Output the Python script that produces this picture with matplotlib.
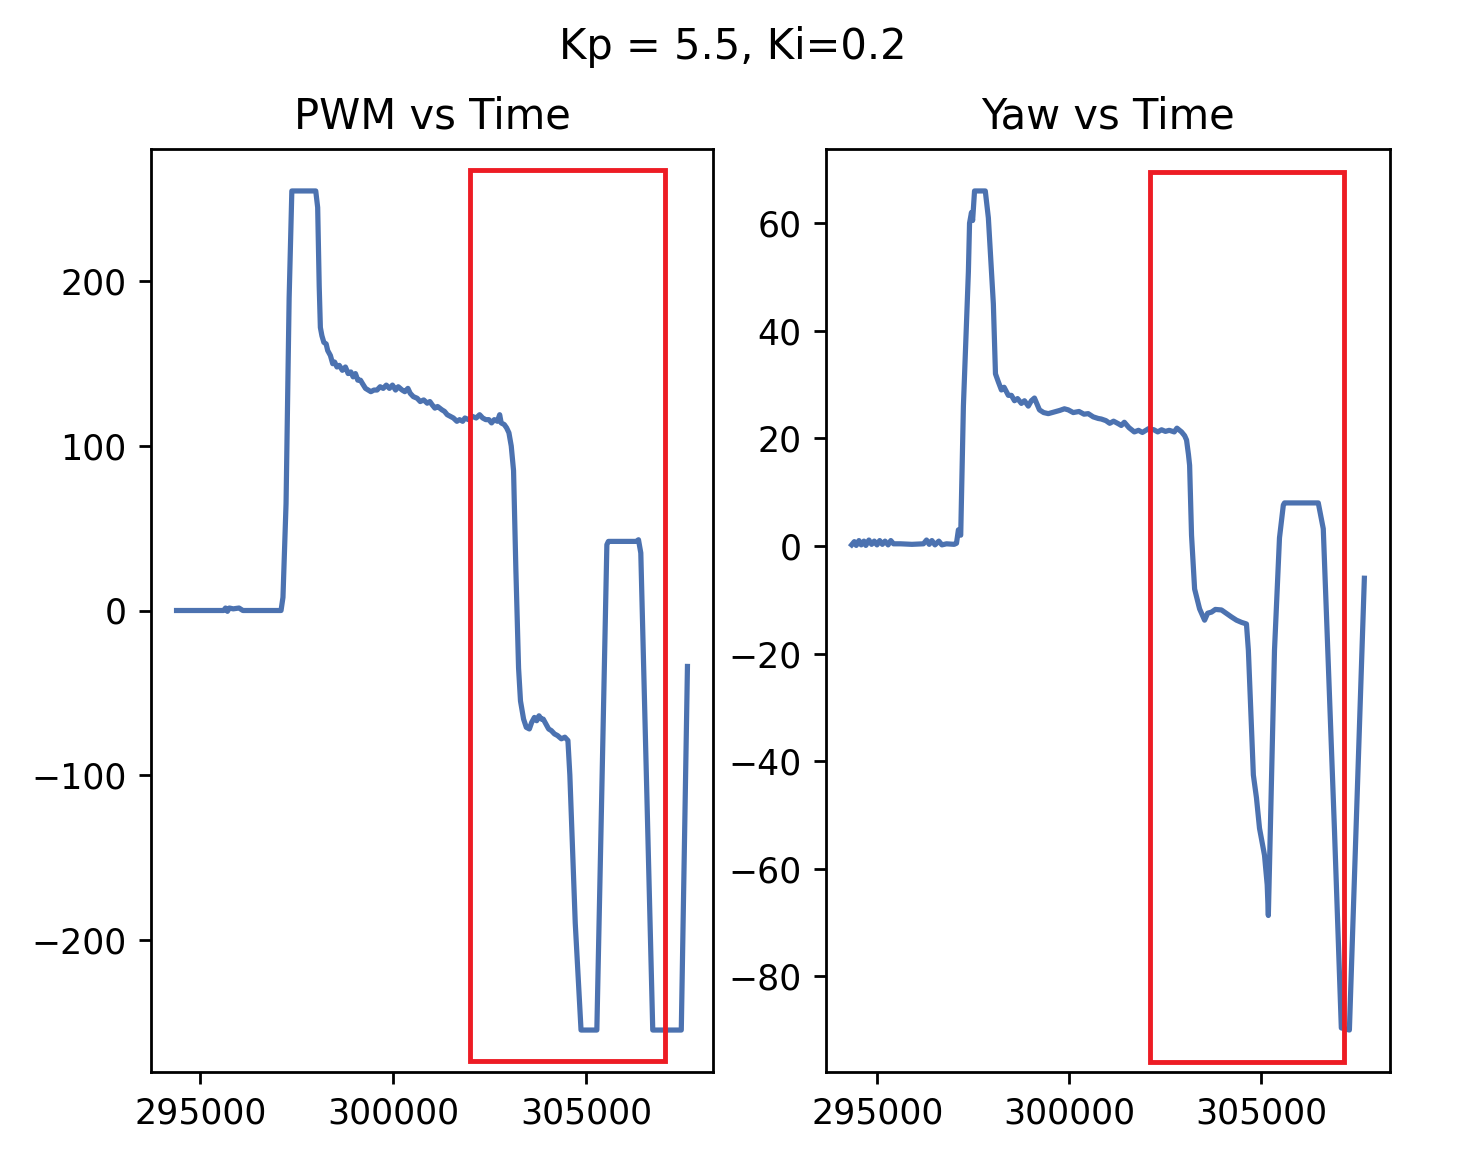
import matplotlib
matplotlib.use("Agg")
from matplotlib import pyplot as plt
from matplotlib.patches import Rectangle

# PWM trace (time, value)
pwm_t = [294380, 295600, 295650, 295700, 295750, 295850, 296000, 296100, 297090, 297140,
	297220, 297300, 297370, 297990, 298040, 298080, 298110, 298150, 298200, 298260,
	298300, 298370, 298430, 298480, 298540, 298600, 298680, 298760, 298830, 298900,
	298960, 299020, 299080, 299150, 299200, 299280, 299350, 299420, 299500, 299580,
	299660, 299740, 299820, 299900, 299980, 300060, 300130, 300230, 300300, 300380,
	300440, 300520, 300620, 300700, 300790, 300880, 300950, 301010, 301080, 301150,
	301260, 301330, 301400, 301480, 301560, 301650, 301720, 301800, 301860, 301950,
	302050, 302150, 302240, 302320, 302400, 302480, 302550, 302620, 302700, 302760,
	302800, 302880, 302940, 303000, 303060, 303120, 303180, 303250, 303300, 303380,
	303450, 303530, 303590, 303660, 303720, 303780, 303840, 303890, 303960, 304030,
	304100, 304180, 304260, 304360, 304450, 304530, 304580, 304720, 304870, 305280,
	305400, 305540, 305580, 306300, 306360, 306420, 306730, 307470, 307630]
pwm_v = [0, 0, 1.5, -0.5, 1.5, 1, 1.5, 0, 0, 8,
	65, 190, 255, 255, 245, 197, 172, 167, 163, 162,
	158, 155, 150, 151, 148, 149, 146, 148, 144, 145,
	142, 144, 140, 140, 138, 135, 134, 133, 134, 134,
	136, 135, 137, 135, 137, 134, 136, 134, 133, 135,
	132, 130, 129, 127, 128, 126, 127, 125, 123, 124,
	122, 121, 119, 118, 117, 115, 116, 115, 117, 116,
	118, 117, 119, 117, 116, 116, 114, 116, 115, 119,
	114, 113, 111, 108, 100, 85, 25, -35, -55, -66,
	-71, -72, -68, -65, -67, -64, -66, -66, -69, -72,
	-73, -75, -76, -78, -77, -79, -100, -190, -255, -255,
	-120, 40, 42, 42, 43, 35, -255, -255, -34]

# Yaw trace (time, value)
yaw_t = [294330, 294400, 294450, 294520, 294580, 294650, 294700, 294780, 294850, 294920,
	294990, 295060, 295130, 295200, 295280, 295350, 295420, 295600, 295900, 296200,
	296280, 296350, 296420, 296500, 296600, 296680, 296800, 297000, 297060, 297110,
	297170, 297240, 297370, 297400, 297450, 297480, 297530, 297810, 297890, 298020,
	298075, 298150, 298230, 298300, 298410, 298490, 298570, 298650, 298750, 298830,
	298930, 299010, 299090, 299220, 299330, 299450, 299600, 299750, 299870, 299970,
	300100, 300250, 300380, 300490, 300620, 300750, 300830, 300950, 301050, 301150,
	301280, 301350, 301430, 301550, 301690, 301800, 301900, 302060, 302200, 302300,
	302400, 302500, 302600, 302730, 302800, 302920, 303000, 303050, 303100, 303130,
	303180, 303260, 303390, 303520, 303600, 303700, 303800, 303960, 304100, 304220,
	304350, 304480, 304610, 304660, 304790, 304870, 304950, 305080, 305150, 305180,
	305340, 305470, 305570, 305600, 306480, 306610, 306900, 307080, 307290, 307680]
yaw_v = [0.2, 0.8, 0.1, 1.0, 0.2, 0.9, 0.1, 1.1, 0.3, 0.9,
	0.2, 1.0, 0.3, 0.9, 0.2, 1.0, 0.4, 0.4, 0.3, 0.4,
	1.1, 0.3, 1.0, 0.2, 0.9, 0.2, 0.4, 0.3, 0.5, 3,
	2, 26, 51, 60, 62, 60.5, 66, 66, 61, 45,
	32, 30.5, 29, 29.5, 28, 28, 27, 27.4, 26.5, 27,
	26, 27, 27.5, 25.3, 24.8, 24.6, 24.9, 25.2, 25.5, 25.3,
	24.8, 25, 24.5, 24.6, 24, 23.7, 23.6, 23.3, 22.8, 23.2,
	22.7, 22.4, 23, 22, 21.2, 21.5, 21.1, 21.8, 21.6, 21.2,
	21.6, 21.3, 21.5, 21.2, 21.9, 21.2, 20.5, 19.7, 17, 15,
	2, -8, -11.7, -13.8, -12.5, -12.3, -11.8, -11.9, -12.6, -13.2,
	-13.8, -14.2, -14.5, -19.4, -42.6, -46.8, -52.5, -57.5, -63, -68.7,
	-19.4, 1.5, 7.6, 8, 8, 3.2, -52.5, -89.6, -90, -6]

# highlighted windows (x0, x1, y0, y1)
pwm_box = [302000, 307050, -274, 268]
yaw_box = [302100, 307150, -96, 69.6]

line_color = "#4c72b0"
box_color = "#ed1c24"

dpi = 250
fig = plt.figure(figsize=(1465 / dpi, 1160 / dpi), dpi=dpi)
ax1 = fig.add_axes([151 / 1465, 1 - 1072 / 1160, 562 / 1465, 923 / 1160])
ax2 = fig.add_axes([826 / 1465, 1 - 1072 / 1160, 564 / 1465, 923 / 1160])

ax1.plot(pwm_t, pwm_v, color=line_color, lw=1.5)
ax1.set_title("PWM vs Time")
ax2.plot(yaw_t, yaw_v, color=line_color, lw=1.5)
ax2.set_title("Yaw vs Time")

for ax, box in ((ax1, pwm_box), (ax2, yaw_box)):
	# keep the limits from the line only, the boxes should not stretch them
	xl, yl = ax.get_xlim(), ax.get_ylim()
	ax.add_patch(Rectangle((box[0], box[2]), box[1] - box[0], box[3] - box[2],
		fill=False, edgecolor=box_color, lw=1.4, zorder=3))
	ax.set_xlim(xl)
	ax.set_ylim(yl)
	ax.set_xticks([295000, 300000, 305000])
	ax.ticklabel_format(axis="x", useOffset=False, style="plain")

ax2.set_yticks([-80, -60, -40, -20, 0, 20, 40, 60])

fig.suptitle("Kp = 5.5, Ki=0.2", y=1 - 47 / 1160, va="center", fontsize=12)

fig.savefig("out.png", dpi=dpi)
